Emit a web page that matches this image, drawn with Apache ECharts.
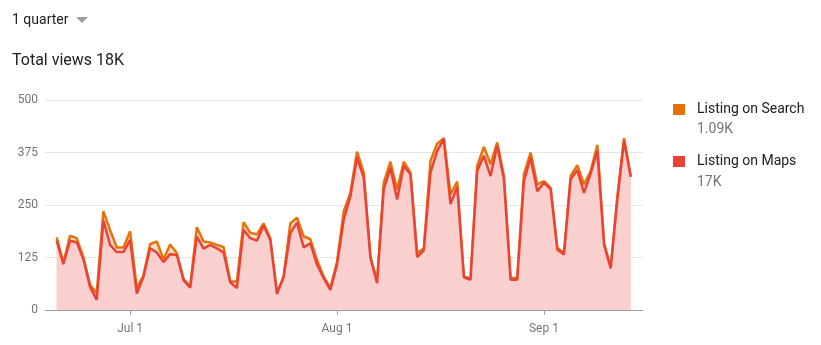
<!DOCTYPE html>
<html>
<head>
<meta charset="utf-8">
<script src="https://cdn.jsdelivr.net/npm/echarts@6/dist/echarts.min.js"></script>
<style>
html,body{margin:0;padding:0;background:#fff;}
#chart{width:821px;height:345px;}
</style>
</head>
<body>
<div id="chart"></div>
<script>
// Day index 0 = Jun 20 ... 86 = Sep 14
var mapsViews = [165,109,165,161,121,55,24,213,155,138,138,167,39,79,147,137,114,133,131,71,53,
  175,146,155,147,137,66,52,191,171,165,201,167,38,78,183,208,149,159,108,76,48,
  108,215,271,363,315,124,64,287,339,263,343,323,126,142,327,379,407,252,293,78,72,331,
  367,319,391,311,72,72,307,363,283,303,287,144,132,311,333,279,325,379,156,99,263,403,317];
var searchViews = [8,3,12,10,4,5,16,22,35,11,11,20,13,3,10,26,7,23,4,3,3,
  22,17,6,8,13,2,16,18,13,15,5,4,2,2,23,12,26,10,11,4,4,
  7,20,8,14,12,4,4,16,14,24,10,4,10,4,28,17,2,23,13,2,3,12,
  21,28,8,8,4,4,16,12,16,4,4,4,4,8,12,20,6,14,4,1,8,6,2];
var tickDays = [11, 42, 73];
var tickLabels = ['Jul 1', 'Aug 1', 'Sep 1'];
var seriesNames = ['Listing on Search', 'Listing on Maps'];
var seriesTotals = ['1.09K', '17K'];
var headerPeriod = '1 quarter';
var headerTotal = 'Total views 18K';

var ORANGE = '#e8710a', RED = '#ea4335';
var totalPts = mapsViews.map(function(v, i){ return [i, v + searchViews[i]]; });
var mapsPts = mapsViews.map(function(v, i){ return [i, v]; });

var chart = echarts.init(document.getElementById('chart'), null, {renderer: 'canvas'});
var FONT = 'Roboto, "Noto Sans", Arial, sans-serif';
chart.setOption({
  animation: false,
  textStyle: {fontFamily: FONT},
  grid: {left: 45, right: 178, top: 100, bottom: 35, containLabel: false},
  xAxis: {
    type: 'value', min: -1.75, max: 87.84,
    splitLine: {show: false},
    axisLine: {show: true, lineStyle: {color: '#9e9e9e', width: 1}},
    axisTick: {show: true, customValues: tickDays, length: 5, lineStyle: {color: '#9e9e9e'}},
    axisLabel: {show: true, customValues: tickDays, color: '#757575', fontSize: 12, fontFamily: FONT, margin: 13,
      formatter: function(v){ var k = tickDays.indexOf(Math.round(v)); return k >= 0 ? tickLabels[k] : ''; }}
  },
  yAxis: {
    type: 'value', min: 0, max: 500, interval: 125,
    axisLine: {show: false}, axisTick: {show: false},
    axisLabel: {color: '#757575', fontSize: 12, fontFamily: FONT, margin: 7},
    splitLine: {lineStyle: {color: '#e6e6e6', width: 1}}
  },
  series: [
    {name: seriesNames[0], type: 'line', data: totalPts, symbol: 'none', z: 2,
      lineStyle: {color: ORANGE, width: 2.5}, itemStyle: {color: ORANGE},
      areaStyle: {color: '#fbe0c9', opacity: 1}},
    {name: seriesNames[1], type: 'line', data: mapsPts, symbol: 'none', z: 3,
      lineStyle: {color: RED, width: 2.5}, itemStyle: {color: RED},
      areaStyle: {color: '#f9d0ce', opacity: 1}}
  ],
  graphic: [
    {type: 'text', left: 12, top: 13, style: {text: headerPeriod, fill: '#212121', font: '14px ' + FONT}},
    {type: 'polygon', shape: {points: [[76, 17], [88, 17], [82, 23]]}, style: {fill: '#9e9e9e'}},
    {type: 'text', left: 12, top: 53, style: {text: headerTotal, fill: '#212121', font: '16px ' + FONT}},
    {type: 'rect', shape: {x: 673, y: 104, width: 12, height: 11}, style: {fill: ORANGE}},
    {type: 'text', left: 697, top: 102, style: {text: seriesNames[0], fill: '#212121', font: '14px ' + FONT}},
    {type: 'text', left: 697, top: 122, style: {text: seriesTotals[0], fill: '#757575', font: '14px ' + FONT}},
    {type: 'rect', shape: {x: 673, y: 156, width: 12, height: 11}, style: {fill: RED}},
    {type: 'text', left: 697, top: 154, style: {text: seriesNames[1], fill: '#212121', font: '14px ' + FONT}},
    {type: 'text', left: 697, top: 175, style: {text: seriesTotals[1], fill: '#757575', font: '14px ' + FONT}}
  ]
});
</script>
</body>
</html>
